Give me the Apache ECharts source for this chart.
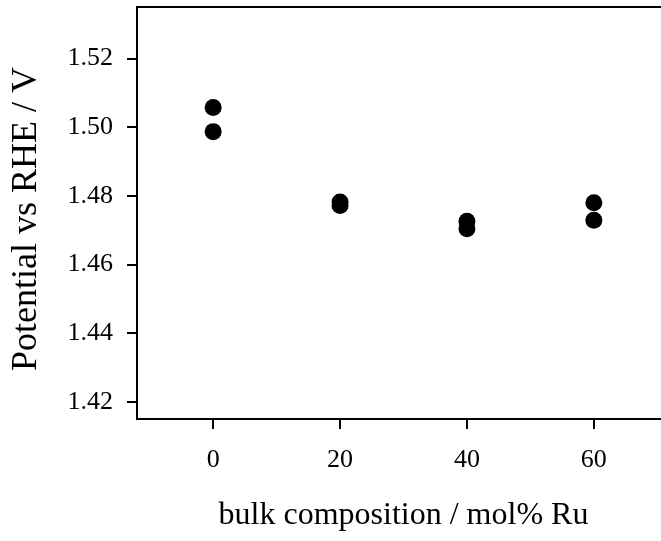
<!DOCTYPE html>
<html>
<head>
<meta charset="utf-8">
<script src="https://cdn.jsdelivr.net/npm/echarts@6/dist/echarts.min.js"></script>
<style>html,body{margin:0;padding:0;background:#fff}#c{width:661px;height:541px}</style>
</head>
<body>
<div id="c"></div>
<script>
// Data
const composition = [0, 0, 20, 20, 40, 40, 60, 60];           // bulk composition / mol% Ru
const potential   = [1.5057, 1.4987, 1.4782, 1.4772, 1.4726, 1.4704, 1.4780, 1.4729]; // V vs RHE
const xTicks = [0, 20, 40, 60];
const yTicks = [1.42, 1.44, 1.46, 1.48, 1.50, 1.52];
const xTitle = 'bulk composition / mol% Ru';
const yTitle = 'Potential vs RHE / V';

const font = 'Liberation Serif';
const chart = echarts.init(document.getElementById('c'), null, {renderer: 'canvas'});
chart.setOption({
  animation: false,
  backgroundColor: '#fff',
  grid: {left: 137, top: 7, width: 533, bottom: 122, outerBoundsMode: 'none', containLabel: false,
         show: true, borderColor: '#000', borderWidth: 2, backgroundColor: 'transparent'},
  xAxis: {
    type: 'value', min: -12, max: 72,
    name: xTitle, nameLocation: 'middle', nameGap: 81,
    nameTextStyle: {fontFamily: font, fontSize: 32, color: '#000'},
    axisLine: {show: true, onZero: false, lineStyle: {color: '#000', width: 2}},
    axisTick: {show: true, length: 10, lineStyle: {color: '#000', width: 2}, customValues: xTicks},
    axisLabel: {fontFamily: font, fontSize: 26, color: '#000', margin: 28, customValues: xTicks, formatter: v => String(v)},
    splitLine: {show: false}
  },
  yAxis: {
    type: 'value', min: 1.415, max: 1.535,
    name: yTitle, nameLocation: 'middle', nameGap: 92, nameRotate: 90,
    nameTextStyle: {fontFamily: font, fontSize: 36, color: '#000', padding: [0, 12, 0, 0]},
    axisLine: {show: true, onZero: false, lineStyle: {color: '#000', width: 2}},
    axisTick: {show: true, length: 10, lineStyle: {color: '#000', width: 2}, customValues: yTicks},
    axisLabel: {fontFamily: font, fontSize: 26, color: '#000', margin: 24, customValues: yTicks, formatter: v => v.toFixed(2)},
    splitLine: {show: false}
  },
  series: [{
    type: 'scatter',
    symbol: 'circle',
    symbolSize: 17,
    itemStyle: {color: '#000', opacity: 1},
    data: composition.map((x, i) => [x, potential[i]])
  }]
});
</script>
</body>
</html>
